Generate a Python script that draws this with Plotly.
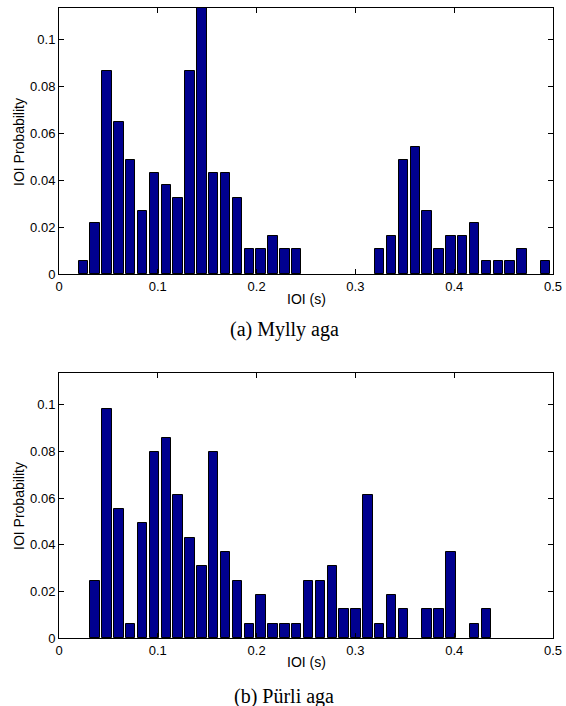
import plotly.graph_objects as go

# Bin centres (s)
bin_centers = [0.0246, 0.0366, 0.0486, 0.0606, 0.0726, 0.0846, 0.0966, 0.1086, 0.1206, 0.1326,
               0.1446, 0.1566, 0.1686, 0.1806, 0.1926, 0.2046, 0.2166, 0.2286, 0.2406, 0.2526,
               0.2646, 0.2766, 0.2886, 0.3006, 0.3126, 0.3246, 0.3366, 0.3486, 0.3606, 0.3726,
               0.3846, 0.3966, 0.4086, 0.4206, 0.4326, 0.4446, 0.4566, 0.4686, 0.4806, 0.4926]

# (a) Mylly aga
prob_a = [0.0054, 0.0216, 0.0865, 0.0649, 0.0486, 0.0270, 0.0432, 0.0378, 0.0324, 0.0865,
          0.1135, 0.0432, 0.0432, 0.0324, 0.0108, 0.0108, 0.0162, 0.0108, 0.0108, 0.0,
          0.0, 0.0, 0.0, 0.0, 0.0, 0.0108, 0.0162, 0.0486, 0.0541, 0.0270,
          0.0108, 0.0162, 0.0162, 0.0216, 0.0054, 0.0054, 0.0054, 0.0108, 0.0, 0.0054]

# (b) Pürli aga
prob_b = [0.0, 0.0245, 0.0982, 0.0552, 0.0061, 0.0491, 0.0798, 0.0859, 0.0613, 0.0429,
          0.0307, 0.0798, 0.0368, 0.0245, 0.0061, 0.0184, 0.0061, 0.0061, 0.0061, 0.0245,
          0.0245, 0.0307, 0.0123, 0.0123, 0.0613, 0.0061, 0.0184, 0.0123, 0.0, 0.0123,
          0.0123, 0.0368, 0.0, 0.0061, 0.0123, 0.0, 0.0, 0.0, 0.0, 0.0]

x_ticks = [0, 0.1, 0.2, 0.3, 0.4, 0.5]
x_ticklabels = ["0", "0.1", "0.2", "0.3", "0.4", "0.5"]
y_ticks = [0, 0.02, 0.04, 0.06, 0.08, 0.1]
y_ticklabels = ["0", "0.02", "0.04", "0.06", "0.08", "0.1"]
captions = ["(a) Mylly aga", "(b) Pürli aga"]

W, H = 566, 706
BAR_COLOR = "#00008F"
SANS = "Liberation Sans, Arial, sans-serif"
SERIF = "Liberation Serif, Times New Roman, serif"

def py(px):
    return 1 - px / H

def px_x(px):
    return px / W

def edge_widths(vals):
    return [1 if v > 0 else 0 for v in vals]

fig = go.Figure()
for vals, xa, ya in [(prob_a, "x", "y"), (prob_b, "x2", "y2")]:
    fig.add_trace(go.Bar(x=bin_centers, y=vals, width=0.0096, xaxis=xa, yaxis=ya,
                         marker=dict(color=BAR_COLOR,
                                     line=dict(color="black", width=edge_widths(vals))),
                         showlegend=False, hoverinfo="x+y"))

xax = dict(range=[0, 0.5], tickvals=x_ticks, ticktext=x_ticklabels, ticks="inside",
           ticklen=5, tickcolor="black", showline=True, linecolor="black", linewidth=1,
           mirror="ticks", showgrid=False, zeroline=False, automargin=False,
           tickfont=dict(family=SANS, size=13, color="black"),
           domain=[px_x(59), px_x(553)])
yax = dict(range=[0, 0.1136], tickvals=y_ticks, ticktext=y_ticklabels, ticks="inside",
           ticklen=5, tickcolor="black", showline=True, linecolor="black", linewidth=1,
           mirror="ticks", showgrid=False, zeroline=False, automargin=False,
           tickfont=dict(family=SANS, size=13, color="black"))

fig.update_layout(
    width=W, height=H, margin=dict(l=0, r=0, t=0, b=0, autoexpand=False),
    autosize=False,
    paper_bgcolor="white", plot_bgcolor="white",
    bargap=0,
    xaxis=dict(xax, anchor="y"),
    yaxis=dict(yax, anchor="x", domain=[py(274), py(8)]),
    xaxis2=dict(xax, anchor="y2"),
    yaxis2=dict(yax, anchor="x2", domain=[py(638), py(373)]),
)

annos = []
for (ylab_y, xlab_y, cap_y, cap) in [(142, 299, 329, captions[0]), (506, 662, 696, captions[1])]:
    annos.append(dict(text="IOI Probability", x=px_x(19), y=py(ylab_y), xref="paper", yref="paper",
                      textangle=-90, showarrow=False, font=dict(family=SANS, size=14, color="black"),
                      xanchor="center", yanchor="middle"))
    annos.append(dict(text="IOI (s)", x=px_x(306), y=py(xlab_y), xref="paper", yref="paper",
                      showarrow=False, font=dict(family=SANS, size=14, color="black"),
                      xanchor="center", yanchor="middle"))
    annos.append(dict(text=cap, x=px_x(284), y=py(cap_y), xref="paper", yref="paper",
                      showarrow=False, font=dict(family=SERIF, size=20, color="black"),
                      xanchor="center", yanchor="middle"))
fig.update_layout(annotations=annos)

fig.write_html("out.html")
